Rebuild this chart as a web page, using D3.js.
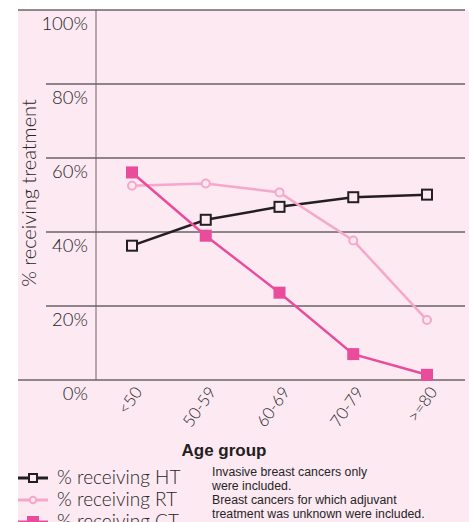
<!DOCTYPE html>
<html>
<head>
<meta charset="utf-8">
<script src="https://cdn.jsdelivr.net/npm/d3@7"></script>
<style>
  body { margin: 0; background: #fff; }
  svg text { font-family: Lato, "Open Sans", sans-serif; }
</style>
</head>
<body>
<svg id="chart" width="469" height="522"></svg>
<script>
// data
const ageGroups = ['<50', '50-59', '60-69', '70-79', '>=80'];
const htValues = [36.3, 43.3, 46.8, 49.4, 50.1];
const rtValues = [52.5, 53.1, 50.7, 37.7, 16.2];
const ctValues = [56.1, 39.0, 23.6, 7.0, 1.4];
const yTicks = [0, 20, 40, 60, 80, 100];
const legendLabels = ['% receiving HT', '% receiving RT', '% receiving CT'];
const noteLines = ['Invasive breast cancers only', 'were included.',
  'Breast cancers for which adjuvant', 'treatment was unknown were included.'];

const bgColor = '#fce9f2';
const textColor = '#262626';
const series = [
  { name: 'HT', values: htValues, color: '#231f20', marker: 'square', fill: bgColor },
  { name: 'RT', values: rtValues, color: '#f5a8ca', marker: 'circle', fill: bgColor },
  { name: 'CT', values: ctValues, color: '#ea4c9c', marker: 'square', fill: '#ea4c9c' }
];

const svg = d3.select('#chart');
const plot = { left: 96, right: 465, top: 10, bottom: 380 };

// pink panel
svg.append('rect')
  .attr('x', 18).attr('y', 10)
  .attr('width', 451).attr('height', 512)
  .attr('fill', bgColor);

const y = d3.scaleLinear().domain([0, 100]).range([plot.bottom, plot.top]);
const x = d3.scalePoint().domain(ageGroups).range([132, 427]);

// gridlines
svg.append('g').selectAll('line')
  .data(yTicks)
  .enter().append('line')
    .attr('x1', d => (d === 0 || d === 100) ? 18 : 46)
    .attr('x2', plot.right)
    .attr('y1', d => y(d)).attr('y2', d => y(d))
    .attr('stroke', d => d === 0 ? '#6d6466' : '#231f20')
    .attr('stroke-width', d => d === 0 ? 1.5 : 1);

// vertical axis line
svg.append('line')
  .attr('x1', plot.left).attr('x2', plot.left)
  .attr('y1', plot.top).attr('y2', plot.bottom)
  .attr('stroke', '#6d6466').attr('stroke-width', 1);

// y labels
svg.append('g').selectAll('text')
  .data(yTicks)
  .enter().append('text')
    .attr('x', 88)
    .attr('y', d => y(d) + 20)
    .attr('text-anchor', 'end')
    .attr('fill', textColor)
    .style('font-size', '18.5px')
    .style('font-weight', 300)
    .text(d => d + '%');

// y title
svg.append('text')
  .attr('transform', 'translate(36,193) rotate(-90)')
  .attr('text-anchor', 'middle')
  .attr('fill', textColor)
  .style('font-size', '20px')
  .style('font-weight', 300)
  .text('% receiving treatment');

// x labels
svg.append('g').selectAll('text')
  .data(ageGroups)
  .enter().append('text')
    .attr('transform', d => 'translate(' + (x(d) + 11) + ',392) rotate(-55)')
    .attr('text-anchor', 'end')
    .attr('fill', textColor)
    .style('font-size', '16.5px')
    .style('font-weight', 300)
    .text(d => d);

// x title
svg.append('text')
  .attr('x', 224).attr('y', 456)
  .attr('text-anchor', 'middle')
  .attr('fill', '#231f20')
  .style('font-family', '"Liberation Sans", Arial, sans-serif')
  .style('font-size', '17px')
  .style('font-weight', 'bold')
  .text('Age group');

function drawMarker(g, s, cx, cy, size) {
  if (s.marker === 'circle') {
    g.append('circle')
      .attr('cx', cx).attr('cy', cy).attr('r', size * 0.8)
      .attr('fill', s.fill).attr('stroke', s.color).attr('stroke-width', 2);
  } else {
    g.append('rect')
      .attr('x', cx - size).attr('y', cy - size)
      .attr('width', size * 2).attr('height', size * 2)
      .attr('fill', s.fill).attr('stroke', s.color)
      .attr('stroke-width', s.fill === s.color ? 0 : 2);
  }
}

const line = d3.line()
  .x((d, i) => x(ageGroups[i]))
  .y(d => y(d));

// series lines
series.forEach(s => {
  const g = svg.append('g');
  g.append('path')
    .datum(s.values)
    .attr('d', line)
    .attr('fill', 'none')
    .attr('stroke', s.color)
    .attr('stroke-width', 2.5);
  s.values.forEach((v, i) => {
    drawMarker(g, s, x(ageGroups[i]), y(v), s.fill === s.color ? 6 : 5);
  });
});

// legend
const legend = svg.append('g');
series.forEach((s, i) => {
  const ly = 478 + i * 22;
  legend.append('line')
    .attr('x1', 18).attr('x2', 48)
    .attr('y1', ly).attr('y2', ly)
    .attr('stroke', s.color).attr('stroke-width', 3);
  drawMarker(legend, s, 33, ly, s.fill === s.color ? 6 : 4);
  legend.append('text')
    .attr('x', 57).attr('y', ly + 6)
    .attr('fill', textColor)
    .style('font-size', '19px')
    .style('font-weight', 300)
    .text(legendLabels[i]);
});

// footnote
svg.append('g').selectAll('text')
  .data(noteLines)
  .enter().append('text')
    .attr('x', 212)
    .attr('y', (d, i) => [476, 490, 504, 518][i])
    .attr('fill', textColor)
    .style('font-family', '"Liberation Sans", Arial, sans-serif')
    .style('font-size', '12.3px')
    .text(d => d);
</script>
</body>
</html>
